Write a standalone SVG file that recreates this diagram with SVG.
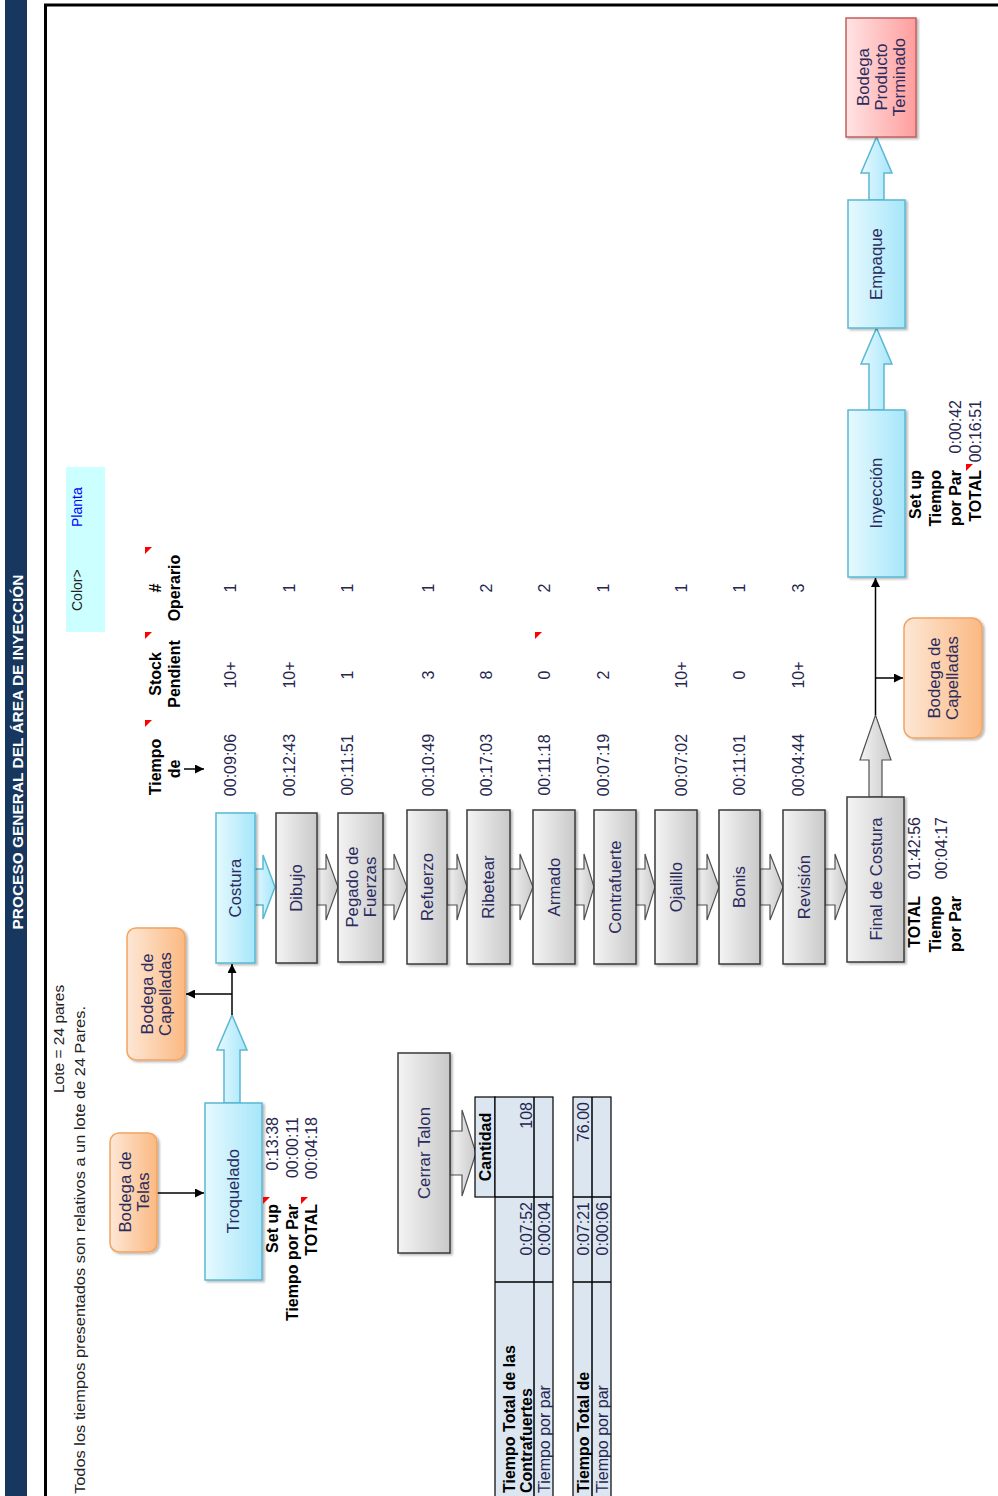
<svg xmlns="http://www.w3.org/2000/svg" width="998" height="1496" viewBox="0 0 998 1496">
<defs>
<linearGradient id="gCyan" x1="0" y1="0" x2="1" y2="0"><stop offset="0" stop-color="#e6f9ff"/><stop offset="1" stop-color="#a6e6fa"/></linearGradient>
<linearGradient id="gGray" x1="0" y1="0" x2="1" y2="0"><stop offset="0" stop-color="#f4f4f4"/><stop offset="1" stop-color="#c9c9c9"/></linearGradient>
<linearGradient id="gOrange" x1="0" y1="0" x2="1" y2="0"><stop offset="0" stop-color="#fde7d6"/><stop offset="1" stop-color="#fbb982"/></linearGradient>
<linearGradient id="gPink" x1="0" y1="0" x2="1" y2="0"><stop offset="0" stop-color="#ffe4e4"/><stop offset="1" stop-color="#ff9d9d"/></linearGradient>
<filter id="sh" x="-15%" y="-15%" width="140%" height="140%"><feDropShadow dx="2" dy="1.5" stdDeviation="1.2" flood-color="#000" flood-opacity="0.28"/></filter>
<marker id="ah" viewBox="0 0 10 10" refX="10" refY="5" markerWidth="9" markerHeight="9" markerUnits="userSpaceOnUse" orient="auto"><path d="M0,0 L10,5 L0,10 z" fill="#000"/></marker>
</defs>
<style>
text{font-family:"Liberation Sans",Arial,sans-serif}
.cy{fill:url(#gCyan);stroke:#5ab8d2;stroke-width:1.5}
.gy{fill:url(#gGray);stroke:#3a3a3a;stroke-width:1.5}
.ga{fill:url(#gGray);stroke:#505050;stroke-width:1.2}
.or{fill:url(#gOrange);stroke:#f2a461;stroke-width:1.5}
.pk{fill:url(#gPink);stroke:#c0605e;stroke-width:1.5}
.lbl{font-size:16.8px;fill:#2b2b5e;text-anchor:middle;dominant-baseline:central}
.hd{font-size:16px;font-weight:bold;fill:#000;dominant-baseline:central}
.v{font-size:16px;fill:#26264f;dominant-baseline:central}
.m{text-anchor:middle}
.e{text-anchor:end}
.tb{fill:#dce6f1;stroke:#000;stroke-width:1.2}
.red{fill:#ff0000}
.ln{stroke:#000;stroke-width:1.5;fill:none}
</style>

<!-- title bar and frame -->
<rect x="5" y="0" width="22" height="1496" fill="#17375e"/>
<text transform="translate(17,752) rotate(-90)" text-anchor="middle" dominant-baseline="central" font-size="15.5" font-weight="bold" fill="#fff" textLength="355" lengthAdjust="spacingAndGlyphs">PROCESO GENERAL DEL ÁREA DE INYECCIÓN</text>
<path d="M45.5,1496 L45.5,5 L998,5" fill="none" stroke="#000" stroke-width="3"/>

<!-- notes -->
<text transform="translate(58,1093) rotate(-90)" font-size="15.5" fill="#222" dominant-baseline="central">Lote = 24 pares</text>
<text transform="translate(79,1494) rotate(-90)" font-size="15" fill="#222" dominant-baseline="central" textLength="488" lengthAdjust="spacingAndGlyphs">Todos los tiempos presentados son relativos a un lote de 24 Pares.</text>
<g id="color-key">
<rect x="66" y="467" width="39" height="165" fill="#ccffff"/>
<text transform="translate(77,611) rotate(-90)" font-size="14" fill="#222" dominant-baseline="central">Color&gt;</text>
<text transform="translate(77,527) rotate(-90)" font-size="14" fill="#0000ff" dominant-baseline="central">Planta</text>
</g>

<!-- block arrows -->
<g id="block-arrows">
<path class="cy" d="M224,1103 L224,1050 L217,1050 L232,1015 L247,1050 L240,1050 L240,1103 Z"/>
<path class="cy" d="M254,869 L263,869 L263,855 L275,887 L263,919 L263,905 L254,905 Z"/>
<path class="ga" d="M317,869 L326,869 L326,854 L338,887 L326,920 L326,905 L317,905 Z"/>
<path class="ga" d="M383,869 L394,869 L394,854 L407,887 L394,920 L394,905 L383,905 Z"/>
<path class="ga" d="M447,869 L457,869 L457,854 L467,887 L457,920 L457,905 L447,905 Z"/>
<path class="ga" d="M510,869 L520,869 L520,854 L533,887 L520,920 L520,905 L510,905 Z"/>
<path class="ga" d="M575,869 L584,869 L584,854 L594,887 L584,920 L584,905 L575,905 Z"/>
<path class="ga" d="M636,869 L645,869 L645,854 L655,887 L645,920 L645,905 L636,905 Z"/>
<path class="ga" d="M697,869 L707,869 L707,854 L719,887 L707,920 L707,905 L697,905 Z"/>
<path class="ga" d="M760,869 L770,869 L770,854 L783,887 L770,920 L770,905 L760,905 Z"/>
<path class="ga" d="M825,869 L835,869 L835,854 L847,887 L835,920 L835,905 L825,905 Z"/>
<path class="ga" d="M869,797 L869,760 L860,760 L875.5,715 L891,760 L882,760 L882,797 Z"/>
<path class="cy" d="M869,410 L869,364 L861,364 L876.5,328 L892,364 L884,364 L884,410 Z"/>
<path class="cy" d="M869,200 L869,173 L861,173 L876.5,137 L892,173 L884,173 L884,200 Z"/>
<path class="ga" d="M450,1131 L462,1131 L462,1110 L476,1153 L462,1196 L462,1175 L450,1175 Z"/>
</g>

<!-- connectors -->
<g id="connectors">
<line class="ln" x1="157" y1="1193" x2="204" y2="1193" marker-end="url(#ah)"/>
<line class="ln" x1="232" y1="1015" x2="232" y2="964" marker-end="url(#ah)"/>
<line class="ln" x1="232" y1="994" x2="186" y2="994" marker-end="url(#ah)"/>
<line class="ln" x1="875.5" y1="715" x2="875.5" y2="578" marker-end="url(#ah)"/>
<line class="ln" x1="875.5" y1="678" x2="903" y2="678" marker-end="url(#ah)"/>
<line class="ln" x1="184" y1="769" x2="204" y2="769" marker-end="url(#ah)"/>
</g>

<!-- nodes -->
<g id="bodega-telas"><rect class="or" filter="url(#sh)" x="110" y="1133" width="47" height="119" rx="9"/>
<text class="lbl" transform="translate(125,1192) rotate(-90)">Bodega de</text><text class="lbl" transform="translate(143,1192) rotate(-90)">Telas</text></g>
<g id="troquelado"><rect class="cy" filter="url(#sh)" x="205" y="1103" width="57" height="177"/>
<text class="lbl" transform="translate(233.5,1191) rotate(-90)">Troquelado</text></g>
<g id="bodega-capelladas-1"><rect class="or" filter="url(#sh)" x="127" y="928" width="58" height="132" rx="9"/>
<text class="lbl" transform="translate(147,994) rotate(-90)">Bodega de</text><text class="lbl" transform="translate(165,994) rotate(-90)">Capelladas</text></g>
<g id="costura"><rect class="cy" filter="url(#sh)" x="216" y="813" width="39" height="150"/>
<text class="lbl" transform="translate(235.5,888) rotate(-90)">Costura</text></g>
<g id="dibujo"><rect class="gy" filter="url(#sh)" x="276" y="813" width="41" height="150"/>
<text class="lbl" transform="translate(296.5,888) rotate(-90)">Dibujo</text></g>
<g id="pegado"><rect class="gy" filter="url(#sh)" x="338" y="813" width="45" height="149"/>
<text class="lbl" transform="translate(352,887) rotate(-90)">Pegado de</text><text class="lbl" transform="translate(370,887) rotate(-90)">Fuerzas</text></g>
<g id="refuerzo"><rect class="gy" filter="url(#sh)" x="407" y="810" width="40" height="154"/>
<text class="lbl" transform="translate(427,887) rotate(-90)">Refuerzo</text></g>
<g id="ribetear"><rect class="gy" filter="url(#sh)" x="467" y="810" width="43" height="154"/>
<text class="lbl" transform="translate(488.5,887) rotate(-90)">Ribetear</text></g>
<g id="armado"><rect class="gy" filter="url(#sh)" x="533" y="810" width="42" height="154"/>
<text class="lbl" transform="translate(554,887) rotate(-90)">Armado</text></g>
<g id="contrafuerte"><rect class="gy" filter="url(#sh)" x="594" y="810" width="42" height="154"/>
<text class="lbl" transform="translate(615,887) rotate(-90)">Contrafuerte</text></g>
<g id="ojalillo"><rect class="gy" filter="url(#sh)" x="655" y="810" width="42" height="154"/>
<text class="lbl" transform="translate(676,887) rotate(-90)">Ojalillo</text></g>
<g id="bonis"><rect class="gy" filter="url(#sh)" x="719" y="810" width="41" height="154"/>
<text class="lbl" transform="translate(739.5,887) rotate(-90)">Bonis</text></g>
<g id="revision"><rect class="gy" filter="url(#sh)" x="783" y="810" width="42" height="154"/>
<text class="lbl" transform="translate(804,887) rotate(-90)">Revisión</text></g>
<g id="final-costura"><rect class="gy" filter="url(#sh)" x="847" y="797" width="57" height="165"/>
<text class="lbl" transform="translate(876,879) rotate(-90)">Final de Costura</text></g>
<g id="bodega-capelladas-2"><rect class="or" filter="url(#sh)" x="904" y="618" width="78" height="120" rx="10"/>
<text class="lbl" transform="translate(934,678) rotate(-90)">Bodega de</text><text class="lbl" transform="translate(952,678) rotate(-90)">Capelladas</text></g>
<g id="inyeccion"><rect class="cy" filter="url(#sh)" x="848" y="410" width="57" height="167"/>
<text class="lbl" transform="translate(876.5,493) rotate(-90)">Inyección</text></g>
<g id="empaque"><rect class="cy" filter="url(#sh)" x="848" y="200" width="57" height="128"/>
<text class="lbl" transform="translate(876.5,264) rotate(-90)">Empaque</text></g>
<g id="bodega-pt"><rect class="pk" filter="url(#sh)" x="846" y="18" width="70" height="119"/>
<text class="lbl" transform="translate(863,77) rotate(-90)">Bodega</text><text class="lbl" transform="translate(881,77) rotate(-90)">Producto</text><text class="lbl" transform="translate(899,77) rotate(-90)">Terminado</text></g>
<g id="cerrar-talon"><rect class="gy" filter="url(#sh)" x="398" y="1053" width="52" height="200"/>
<text class="lbl" transform="translate(424,1153) rotate(-90)">Cerrar Talon</text></g>

<!-- Troquelado data -->
<g id="troquelado-data">
<text class="hd e" transform="translate(272,1204) rotate(-90)">Set up</text>
<text class="hd e" transform="translate(292,1204) rotate(-90)">Tiempo por Par</text>
<text class="hd e" transform="translate(311,1204) rotate(-90)">TOTAL</text>
<text class="v e" transform="translate(272,1117) rotate(-90)">0:13:38</text>
<text class="v e" transform="translate(292,1117) rotate(-90)">00:00:11</text>
<text class="v e" transform="translate(311,1117) rotate(-90)">00:04:18</text>
<path class="red" d="M263,1197 h7 L263,1204 z"/>
<path class="red" d="M301,1197 h7 L301,1204 z"/>
</g>

<!-- table header -->
<g id="table-header">
<text class="hd m" transform="translate(155,767) rotate(-90)">Tiempo</text>
<text class="hd m" transform="translate(174,769) rotate(-90)">de</text>
<text class="hd m" transform="translate(155,674) rotate(-90)">Stock</text>
<text class="hd m" transform="translate(174,674) rotate(-90)">Pendient</text>
<text class="hd m" transform="translate(155,588) rotate(-90)">#</text>
<text class="hd m" transform="translate(174,588) rotate(-90)">Operario</text>
<path class="red" d="M145,720 h7 L145,727 z"/>
<path class="red" d="M145,632 h7 L145,639 z"/>
<path class="red" d="M145,547 h7 L145,554 z"/>
<path class="red" d="M535,632 h7 L535,639 z"/>
</g>
<g id="table-values">
<text class="v m" transform="translate(230,765) rotate(-90)">00:09:06</text><text class="v m" transform="translate(230,675) rotate(-90)">10+</text><text class="v m" transform="translate(230,588) rotate(-90)">1</text>
<text class="v m" transform="translate(289,765) rotate(-90)">00:12:43</text><text class="v m" transform="translate(289,675) rotate(-90)">10+</text><text class="v m" transform="translate(289,588) rotate(-90)">1</text>
<text class="v m" transform="translate(347,765) rotate(-90)">00:11:51</text><text class="v m" transform="translate(347,675) rotate(-90)">1</text><text class="v m" transform="translate(347,588) rotate(-90)">1</text>
<text class="v m" transform="translate(428,765) rotate(-90)">00:10:49</text><text class="v m" transform="translate(428,675) rotate(-90)">3</text><text class="v m" transform="translate(428,588) rotate(-90)">1</text>
<text class="v m" transform="translate(486,765) rotate(-90)">00:17:03</text><text class="v m" transform="translate(486,675) rotate(-90)">8</text><text class="v m" transform="translate(486,588) rotate(-90)">2</text>
<text class="v m" transform="translate(544,765) rotate(-90)">00:11:18</text><text class="v m" transform="translate(544,675) rotate(-90)">0</text><text class="v m" transform="translate(544,588) rotate(-90)">2</text>
<text class="v m" transform="translate(603,765) rotate(-90)">00:07:19</text><text class="v m" transform="translate(603,675) rotate(-90)">2</text><text class="v m" transform="translate(603,588) rotate(-90)">1</text>
<text class="v m" transform="translate(681,765) rotate(-90)">00:07:02</text><text class="v m" transform="translate(681,675) rotate(-90)">10+</text><text class="v m" transform="translate(681,588) rotate(-90)">1</text>
<text class="v m" transform="translate(739,765) rotate(-90)">00:11:01</text><text class="v m" transform="translate(739,675) rotate(-90)">0</text><text class="v m" transform="translate(739,588) rotate(-90)">1</text>
<text class="v m" transform="translate(798,765) rotate(-90)">00:04:44</text><text class="v m" transform="translate(798,675) rotate(-90)">10+</text><text class="v m" transform="translate(798,588) rotate(-90)">3</text>
</g>

<!-- Final de Costura data -->
<g id="final-data">
<text class="hd e" transform="translate(914,896) rotate(-90)">TOTAL</text>
<text class="hd e" transform="translate(935,896) rotate(-90)">Tiempo</text>
<text class="hd e" transform="translate(955,896) rotate(-90)">por Par</text>
<text class="v e" transform="translate(914,817) rotate(-90)">01:42:56</text>
<text class="v e" transform="translate(941,817) rotate(-90)">00:04:17</text>
</g>

<!-- Inyeccion data -->
<g id="inyeccion-data">
<text class="hd e" transform="translate(915,470) rotate(-90)">Set up</text>
<text class="hd e" transform="translate(935,470) rotate(-90)">Tiempo</text>
<text class="hd e" transform="translate(955,470) rotate(-90)">por Par</text>
<text class="hd e" transform="translate(975,470) rotate(-90)">TOTAL</text>
<text class="v e" transform="translate(955,400) rotate(-90)">0:00:42</text>
<text class="v e" transform="translate(975,400) rotate(-90)">00:16:51</text>
<path class="red" d="M966,464 h7 L966,471 z"/>
</g>

<!-- tables -->
<g id="tabla-contrafuertes">
<rect class="tb" x="475" y="1097" width="20" height="100"/>
<rect class="tb" x="495" y="1097" width="58" height="402"/>
<line class="ln" stroke-width="1.2" x1="534" y1="1097" x2="534" y2="1499"/>
<line class="ln" stroke-width="1.2" x1="495" y1="1197" x2="553" y2="1197"/>
<line class="ln" stroke-width="1.2" x1="495" y1="1282" x2="553" y2="1282"/>
<text class="hd m" transform="translate(485,1147) rotate(-90)">Cantidad</text>
<text class="v e" transform="translate(526,1102) rotate(-90)">108</text>
<text class="v e" transform="translate(526,1202) rotate(-90)">0:07:52</text>
<text class="v e" transform="translate(544,1202) rotate(-90)">0:00:04</text>
<text class="hd" transform="translate(509,1493) rotate(-90)">Tiempo Total de las</text>
<text class="hd" transform="translate(526,1493) rotate(-90)">Contrafuertes</text>
<text class="v" font-size="14" transform="translate(544,1493) rotate(-90)">Tiempo por par</text>
</g>
<g id="tabla-2">
<rect class="tb" x="573" y="1097" width="38" height="402"/>
<line class="ln" stroke-width="1.2" x1="592" y1="1097" x2="592" y2="1499"/>
<line class="ln" stroke-width="1.2" x1="573" y1="1197" x2="611" y2="1197"/>
<line class="ln" stroke-width="1.2" x1="573" y1="1282" x2="611" y2="1282"/>
<text class="v e" transform="translate(583,1102) rotate(-90)">76.00</text>
<text class="v e" transform="translate(583,1202) rotate(-90)">0:07:21</text>
<text class="v e" transform="translate(602,1202) rotate(-90)">0:00:06</text>
<text class="hd" transform="translate(583,1493) rotate(-90)">Tiempo Total de</text>
<text class="v" font-size="14" transform="translate(602,1493) rotate(-90)">Tiempo por par</text>
</g>
</svg>
